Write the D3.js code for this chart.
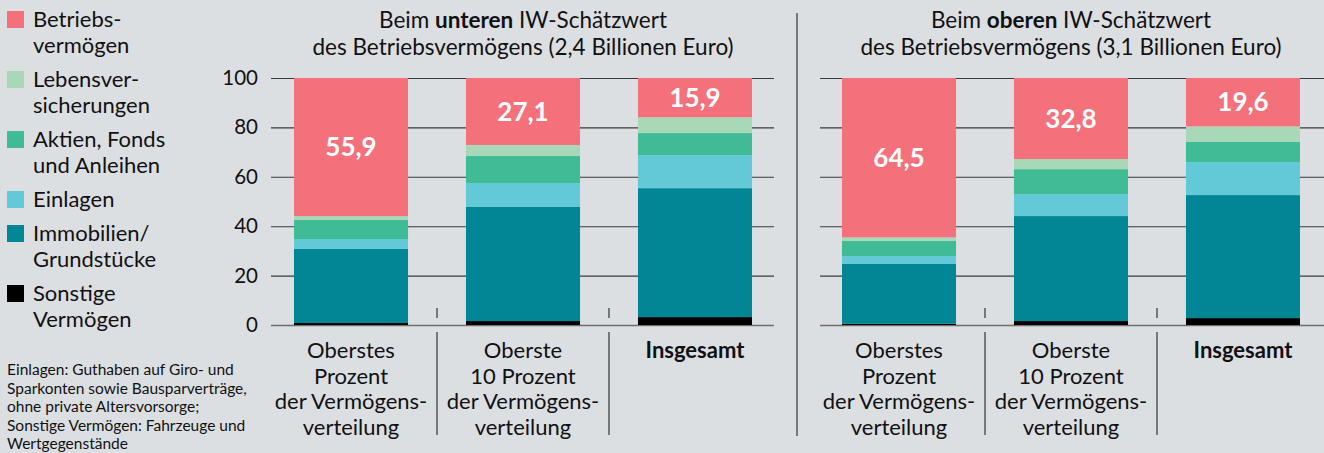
<!DOCTYPE html>
<html>
<head>
<meta charset="utf-8">
<script src="https://cdn.jsdelivr.net/npm/d3@7"></script>
<style>
  body { margin: 0; background: #dcdfe2; }
  svg { display: block; font-family: "Source Sans Pro", Lato, sans-serif; }
</style>
</head>
<body>
<div id="chart"></div>
<script>
// series, bottom to top of each stack
var seriesNames = ["Sonstige Vermögen", "Immobilien/Grundstücke", "Einlagen",
	"Aktien, Fonds und Anleihen", "Lebensversicherungen", "Betriebsvermögen"];
var seriesColors = ["#000000", "#008695", "#63c9d6", "#3fbc95", "#a8d8b8", "#f4707a"];

var categories = ["top1", "top10", "total"];
var categoryLines = [
	["Oberstes", "Prozent", "der Vermögens-", "verteilung"],
	["Oberste", "10 Prozent", "der Vermögens-", "verteilung"],
	["Insgesamt"]
];

// Beim unteren IW-Schätzwert (2,4 Billionen Euro), one value per category
var lowerSonstige = [0.8, 1.6, 3.2];
var lowerImmobilien = [30.0, 46.2, 52.2];
var lowerEinlagen = [4.0, 9.7, 13.4];
var lowerAktien = [7.7, 10.9, 8.9];
var lowerLeben = [1.6, 4.5, 6.4];
var lowerBetrieb = [55.9, 27.1, 15.9];

// Beim oberen IW-Schätzwert (3,1 Billionen Euro)
var upperSonstige = [0.5, 1.6, 2.8];
var upperImmobilien = [24.2, 42.5, 49.8];
var upperEinlagen = [3.2, 8.9, 13.4];
var upperAktien = [6.1, 10.1, 8.1];
var upperLeben = [1.5, 4.1, 6.3];
var upperBetrieb = [64.5, 32.8, 19.6];

var yTicks = [0, 20, 40, 60, 80, 100];

var legendLines = [
	["Betriebs-", "vermögen"],
	["Lebensver-", "sicherungen"],
	["Aktien, Fonds", "und Anleihen"],
	["Einlagen"],
	["Immobilien/", "Grundstücke"],
	["Sonstige", "Vermögen"]
];
var legendColors = ["#f4707a", "#a8d8b8", "#3fbc95", "#63c9d6", "#008695", "#000000"];

var footnote = ["Einlagen: Guthaben auf Giro- und", "Sparkonten sowie Bausparverträge,",
	"ohne private Altersvorsorge;", "Sonstige Vermögen: Fahrzeuge und", "Wertgegenstände"];

var width = 1324, height = 453;

var svg = d3.select("#chart").append("svg")
	.attr("width", width)
	.attr("height", height);

function buildRows(cols) {
	return categories.map(function(c, i) {
		var row = {cat: c};
		seriesNames.forEach(function(s, j) { row[s] = cols[j][i]; });
		return row;
	});
}

var panels = [
	{
		title: ["Beim ", "unteren", " IW-Schätzwert"],
		sub: "des Betriebsvermögens (2,4 Billionen Euro)",
		rows: buildRows([lowerSonstige, lowerImmobilien, lowerEinlagen, lowerAktien, lowerLeben, lowerBetrieb]),
		x0: 265, x1: 781, gridFrom: 271, gridTo: 774, labels: true
	},
	{
		title: ["Beim ", "oberen", " IW-Schätzwert"],
		sub: "des Betriebsvermögens (3,1 Billionen Euro)",
		rows: buildRows([upperSonstige, upperImmobilien, upperEinlagen, upperAktien, upperLeben, upperBetrieb]),
		x0: 813, x1: 1329, gridFrom: 820, gridTo: 1324, labels: false
	}
];

var y = d3.scaleLinear().domain([0, 100]).range([325, 78]);
var stack = d3.stack().keys(seriesNames);

panels.forEach(function(p) {
	var x = d3.scaleBand().domain(categories).range([p.x0, p.x1])
		.paddingInner(0.337).paddingOuter(0.1686);
	var cx = (x(categories[0]) + x(categories[2]) + x.bandwidth()) / 2;

	// title
	var t = svg.append("text")
		.attr("x", cx).attr("y", 28)
		.attr("text-anchor", "middle")
		.attr("font-size", 22.5)
		.attr("fill", "#111");
	p.title.forEach(function(s, i) {
		t.append("tspan").attr("font-weight", i == 1 ? "bold" : "normal").text(s);
	});
	svg.append("text")
		.attr("x", cx).attr("y", 55)
		.attr("text-anchor", "middle")
		.attr("font-size", 22.5)
		.attr("fill", "#111")
		.text(p.sub);

	// gridlines + y labels
	var axis = svg.append("g")
		.attr("transform", "translate(" + p.gridFrom + ",0)")
		.call(d3.axisLeft(y).tickValues(yTicks)
			.tickSize(-(p.gridTo - p.gridFrom))
			.tickPadding(13)
			.tickFormat(function(d) { return p.labels ? d : ""; }));
	axis.select(".domain").remove();
	axis.selectAll(".tick line")
		.attr("stroke", function(d) { return d == 0 ? "#6e6e6e" : "#3a3a3a"; })
		.attr("stroke-width", function(d) { return d == 0 ? 1.6 : 1.1; });
	axis.selectAll(".tick text")
		.attr("font-size", 20.5)
		.attr("font-family", "'Source Sans Pro', Lato, sans-serif")
		.attr("fill", "#111");

	// stacked bars
	var layers = stack(p.rows);
	svg.append("g").selectAll("g")
		.data(layers)
		.enter().append("g")
		.attr("fill", function(d, i) { return seriesColors[i]; })
		.selectAll("rect")
		.data(function(d) { return d; })
		.enter().append("rect")
		.attr("x", function(d) { return x(d.data.cat); })
		.attr("y", function(d) { return y(d[1]); })
		.attr("width", x.bandwidth())
		.attr("height", function(d) { return y(d[0]) - y(d[1]); });

	// value labels in Betriebsvermögen
	var top = layers[layers.length - 1];
	svg.append("g").selectAll("text")
		.data(top)
		.enter().append("text")
		.attr("x", function(d) { return x(d.data.cat) + x.bandwidth() / 2; })
		.attr("y", function(d) { return (y(d[0]) + y(d[1])) / 2; })
		.attr("dy", "0.35em")
		.attr("text-anchor", "middle")
		.attr("font-size", 26)
		.attr("font-weight", "bold")
		.attr("fill", "#fff")
		.text(function(d) { return d3.format(".1f")(d[1] - d[0]).replace(".", ","); });

	// separators between categories
	var gap = (x.step() - x.bandwidth()) / 2;
	var seps = categories.slice(0, 2).map(function(c) { return x(c) + x.bandwidth() + gap; });
	seps.forEach(function(sx) {
		svg.append("line").attr("x1", sx).attr("x2", sx).attr("y1", 308).attr("y2", 318)
			.attr("stroke", "#333").attr("stroke-width", 1.2);
		svg.append("line").attr("x1", sx).attr("x2", sx).attr("y1", 332).attr("y2", 435)
			.attr("stroke", "#333").attr("stroke-width", 1.2);
	});

	// category labels
	categories.forEach(function(c, i) {
		var lbl = svg.append("text")
			.attr("x", x(c) + x.bandwidth() / 2)
			.attr("y", 358)
			.attr("text-anchor", "middle")
			.attr("font-size", 22)
			.attr("font-weight", i == 2 ? "bold" : "normal")
			.attr("fill", "#111");
		categoryLines[i].forEach(function(s, k) {
			lbl.append("tspan").attr("x", x(c) + x.bandwidth() / 2)
				.attr("dy", k == 0 ? 0 : 25.5).text(s);
		});
	});
});

// panel divider
svg.append("line").attr("x1", 797).attr("x2", 797).attr("y1", 13).attr("y2", 436)
	.attr("stroke", "#333").attr("stroke-width", 1.2);

// legend
var ly = 11;
legendLines.forEach(function(lines, i) {
	svg.append("rect").attr("x", 7).attr("y", ly).attr("width", 17).attr("height", 17)
		.attr("fill", legendColors[i]);
	var lt = svg.append("text").attr("x", 33).attr("y", ly + 8.5)
		.attr("font-size", 22).attr("fill", "#111");
	lines.forEach(function(s, k) {
		lt.append("tspan").attr("x", 33).attr("dy", k == 0 ? "0.35em" : 26).text(s);
	});
	ly += lines.length * 26 + 8;
});

// footnote
var ft = svg.append("text").attr("x", 7).attr("y", 375).attr("font-size", 15.5).attr("fill", "#111");
footnote.forEach(function(s, k) {
	ft.append("tspan").attr("x", 7).attr("dy", k == 0 ? 0 : 18.6).text(s);
});
</script>
</body>
</html>
